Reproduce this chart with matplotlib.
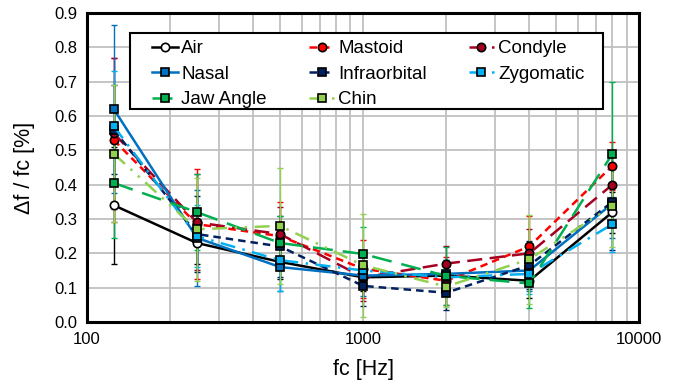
import numpy as np
import matplotlib
matplotlib.use("Agg")
import matplotlib.pyplot as plt
from matplotlib.patches import Rectangle
from matplotlib.ticker import LogLocator, NullFormatter, FixedLocator

plt.rcParams['font.family'] = ['Liberation Sans', 'DejaVu Sans']

freqs = [125, 250, 500, 1000, 2000, 4000, 8000]

air = [0.34, 0.23, 0.175, 0.13, 0.135, 0.12, 0.32]
mastoid = [0.53, 0.285, 0.25, 0.155, 0.12, 0.22, 0.455]
condyle = [0.55, 0.29, 0.256, 0.13, 0.17, 0.20, 0.40]
nasal = [0.62, 0.245, 0.16, 0.135, 0.14, 0.15, 0.345]
infraorbital = [0.56, 0.256, 0.22, 0.105, 0.085, 0.165, 0.35]
zygomatic = [0.57, 0.25, 0.18, 0.15, 0.13, 0.14, 0.285]
jaw_angle = [0.405, 0.32, 0.23, 0.198, 0.134, 0.112, 0.49]
chin = [0.49, 0.27, 0.28, 0.165, 0.103, 0.183, 0.338]

air_err = [0.17, 0.06, 0.05, 0.04, 0.04, 0.05, 0.06]
mastoid_err = [0.24, 0.16, 0.10, 0.085, 0.07, 0.09, 0.07]
condyle_err = [0.22, 0.14, 0.08, 0.07, 0.05, 0.07, 0.06]
nasal_err = [0.245, 0.14, 0.07, 0.06, 0.04, 0.06, 0.10]
infraorbital_err = [0.13, 0.11, 0.09, 0.06, 0.05, 0.07, 0.14]
zygomatic_err = [0.16, 0.09, 0.09, 0.05, 0.05, 0.06, 0.08]
jaw_angle_err = [0.16, 0.11, 0.08, 0.08, 0.085, 0.07, 0.21]
chin_err = [0.20, 0.15, 0.17, 0.15, 0.06, 0.13, 0.12]

# name, values, errors, color, linestyle, marker, marker face
series = [
    ("Air", air, air_err, "black", "-", "o", "white"),
    ("Mastoid", mastoid, mastoid_err, "#FF0000", (0, (3, 2)), "o", "#FF0000"),
    ("Condyle", condyle, condyle_err, "#A50021", (0, (6, 3)), "o", "#A50021"),
    ("Nasal", nasal, nasal_err, "#0070C0", "-", "s", "#0070C0"),
    ("Infraorbital", infraorbital, infraorbital_err, "#002060", (0, (3, 2)), "s", "#002060"),
    ("Zygomatic", zygomatic, zygomatic_err, "#00B0F0", (0, (6, 3, 1, 3)), "s", "#00B0F0"),
    ("Jaw Angle", jaw_angle, jaw_angle_err, "#00B050", (0, (8, 4)), "s", "#00B050"),
    ("Chin", chin, chin_err, "#92D050", (0, (6, 3, 1, 3, 1, 3)), "s", "#92D050"),
]

fig = plt.figure(figsize=(6.8, 3.86), dpi=100)
ax = fig.add_axes([0.128, 0.166, 0.812, 0.800])

handles = {}
for name, vals, errs, col, ls, mk, face in series:
    ax.errorbar(freqs, vals, yerr=errs, fmt="none", ecolor=col,
                elinewidth=1.0, capsize=2, capthick=1.0, zorder=2)
    h, = ax.plot(freqs, vals, color=col, linestyle=ls, linewidth=1.8,
                 marker=mk, markersize=6, markerfacecolor=face,
                 markeredgecolor="black", markeredgewidth=1.2,
                 label=name, zorder=3)
    handles[name] = h

ax.set_xscale("log")
ax.set_xlim(100, 10000)
ax.set_ylim(0, 0.9)
ax.yaxis.set_major_locator(FixedLocator(np.arange(0, 0.91, 0.1)))
ax.set_yticklabels([f"{v:.1f}" for v in np.arange(0, 0.91, 0.1)])
ax.xaxis.set_major_locator(FixedLocator([100, 1000, 10000]))
ax.set_xticklabels(["100", "1000", "10000"])
ax.xaxis.set_minor_locator(LogLocator(base=10, subs=np.arange(2, 10)))
ax.xaxis.set_minor_formatter(NullFormatter())

ax.grid(True, which="both", axis="x", color="#C0C0C0", linewidth=1.3)
ax.grid(True, which="major", axis="y", color="#C0C0C0", linewidth=1.3)
ax.set_axisbelow(True)
ax.tick_params(which="both", length=0, labelsize=12, pad=7)
for sp in ax.spines.values():
    sp.set_linewidth(2.2)
    sp.set_color("black")

ax.set_xlabel("fc [Hz]", fontsize=15.5, labelpad=9)
ax.set_ylabel("Δf / fc [%]", fontsize=15.5, labelpad=14)

# legend box drawn separately so the padding can differ per side
box = Rectangle((0.078, 0.689), 0.857, 0.246, transform=ax.transAxes,
                facecolor="white", edgecolor="black", linewidth=1.5, zorder=6)
ax.add_patch(box)

order = ["Air", "Nasal", "Jaw Angle", "Mastoid", "Infraorbital", "Chin",
         "Condyle", "Zygomatic"]
leg = ax.legend([handles[n] for n in order], order, ncol=3,
                loc="upper left", bbox_to_anchor=(0.118, 0.913),
                borderaxespad=0, borderpad=0, fontsize=13.5, frameon=False,
                handlelength=1.35, handletextpad=0.2, columnspacing=2.25,
                labelspacing=0.45)
leg.set_zorder(7)

fig.savefig("out.png", dpi=100)
